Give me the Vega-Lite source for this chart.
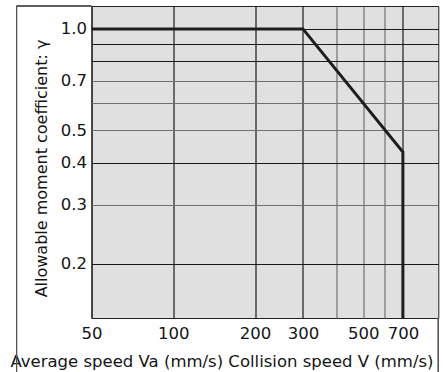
{
  "$schema": "https://vega.github.io/schema/vega-lite/v6.json",
  "autosize": {"type": "none"},
  "padding": {"left": 91.5, "top": 6, "right": 4.7, "bottom": 54},
  "width": 346.8,
  "height": 312,
  "background": "white",
  "config": {
    "view": {"fill": "#e0e0e0", "stroke": "#222", "strokeWidth": 1},
    "font": "DejaVu Sans",
    "axis": {"labelFont": "DejaVu Sans", "titleFont": "DejaVu Sans", "labelColor": "#151515", "titleColor": "#151515", "titleFontWeight": "normal", "domain": false, "ticks": false, "gridOpacity": 1, "gridWidth": 1.2}
  },
  "data": {"values": [
    {"speed": 50, "coef": 1.0},
    {"speed": 300, "coef": 1.0},
    {"speed": 700, "coef": 0.43},
    {"speed": 700, "coef": 0.138}
  ]},
  "layer": [
    {
      "mark": {"type": "line", "color": "#1e1e1e", "strokeWidth": 3, "strokeJoin": "miter", "clip": true},
      "encoding": {
        "x": {
          "field": "speed", "type": "quantitative", "sort": null,
          "scale": {"type": "log", "domain": [50, 945], "nice": false},
          "axis": {
            "values": [50, 100, 200, 300, 400, 500, 600, 700],
            "labelExpr": "datum.value == 400 || datum.value == 600 ? '' : datum.label",
            "format": "d",
            "labelFontSize": 16.5,
            "labelPadding": 7,
            "labelFlush": false,
            "gridColor": {"condition": {"test": "datum.value == 400 || datum.value == 500 || datum.value == 600", "value": "#707070"}, "value": "#1a1a1a"},
            "title": "Average speed Va (mm/s) Collision speed V (mm/s)",
            "titleFontSize": 16.5,
            "titleAnchor": null,
            "titleAlign": "center",
            "titleBaseline": "alphabetic",
            "titleX": 130,
            "titleY": 48
          }
        },
        "y": {
          "field": "coef", "type": "quantitative",
          "scale": {"type": "log", "domain": [0.138, 1.17], "nice": false},
          "axis": {
            "values": [0.2, 0.3, 0.4, 0.5, 0.6, 0.7, 0.8, 0.9, 1.0],
            "format": ".1f",
            "labelExpr": "datum.value > 0.55 && datum.value < 0.65 || datum.value > 0.75 && datum.value < 0.95 ? '' : datum.label",
            "labelFontSize": 16.5,
            "labelPadding": 5,
            "labelFlush": false,
            "gridColor": {"condition": {"test": "(datum.value > 0.25 && datum.value < 0.35) || (datum.value > 0.45 && datum.value < 0.75)", "value": "#707070"}, "value": "#1a1a1a"},
            "title": "Allowable moment coefficient: γ",
            "titleFontSize": 16,
            "titleAngle": -90,
            "titleAnchor": null,
            "titleAlign": "center",
            "titleBaseline": "alphabetic",
            "titleX": -45,
            "titleY": 162
          }
        }
      }
    },
    {
      "mark": {"type": "rule", "color": "#555", "strokeWidth": 1},
      "encoding": {
        "x": {"datum": 26.5, "type": "quantitative"},
        "y": {"datum": 1.17, "type": "quantitative"},
        "y2": {"datum": 0.08}
      }
    },
    {
      "mark": {"type": "rule", "color": "#555", "strokeWidth": 1},
      "encoding": {
        "x": {"datum": 26.5, "type": "quantitative"},
        "x2": {"datum": 50},
        "y": {"datum": 1.17, "type": "quantitative"}
      }
    },
    {
      "mark": {"type": "rule", "color": "#555", "strokeWidth": 1},
      "encoding": {
        "x": {"datum": 945, "type": "quantitative"},
        "y": {"datum": 0.138, "type": "quantitative"},
        "y2": {"datum": 0.08}
      }
    }
  ]
}
